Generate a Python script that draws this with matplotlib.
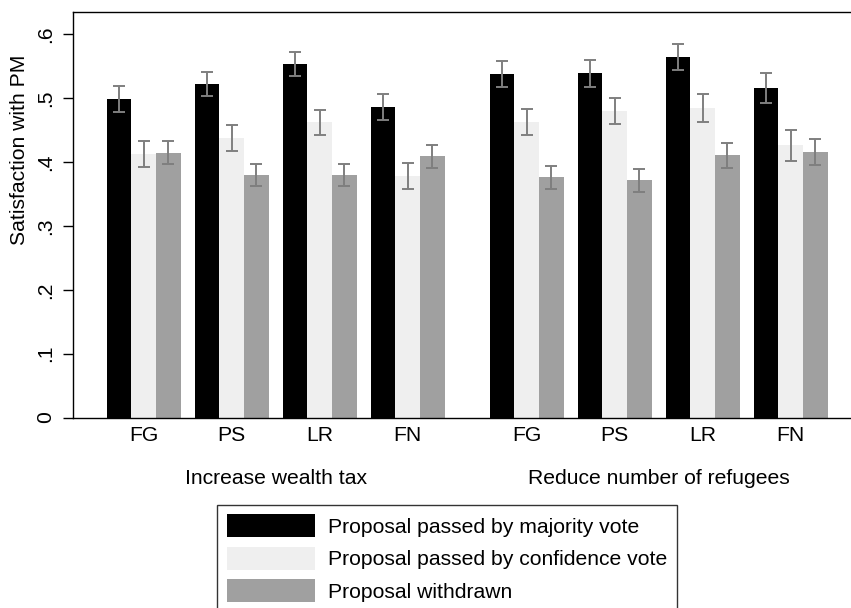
import matplotlib
matplotlib.use("Agg")
import matplotlib.pyplot as plt
from matplotlib.patches import Patch
from matplotlib.transforms import blended_transform_factory
import numpy as np

plt.rcParams["font.family"] = ["Liberation Sans", "DejaVu Sans"]

# Party labels and issue panels
parties = ["FG", "PS", "LR", "FN"]
issues = ["Increase wealth tax", "Reduce number of refugees"]
series_labels = [
    "Proposal passed by majority vote",
    "Proposal passed by confidence vote",
    "Proposal withdrawn",
]

# Mean satisfaction with PM, per issue and party
majority_tax = [0.499, 0.5225, 0.554, 0.4865]
confidence_tax = [0.413, 0.438, 0.4625, 0.378]
withdrawn_tax = [0.415, 0.380, 0.3795, 0.409]
majority_ref = [0.538, 0.539, 0.565, 0.516]
confidence_ref = [0.463, 0.480, 0.485, 0.4265]
withdrawn_ref = [0.376, 0.372, 0.411, 0.416]

# Half-widths of the confidence intervals
majority_tax_ci = [0.020, 0.0185, 0.0185, 0.0205]
confidence_tax_ci = [0.0205, 0.020, 0.0195, 0.020]
withdrawn_tax_ci = [0.0175, 0.0175, 0.0175, 0.018]
majority_ref_ci = [0.020, 0.0205, 0.020, 0.024]
confidence_ref_ci = [0.021, 0.021, 0.022, 0.024]
withdrawn_ref_ci = [0.018, 0.018, 0.0195, 0.020]

yticks = [0, 0.1, 0.2, 0.3, 0.4, 0.5, 0.6]
ytick_labels = ["0", ".1", ".2", ".3", ".4", ".5", ".6"]

colors = ["#000000", "#efefef", "#a0a0a0"]
err_color = "#7f7f7f"

panels = [
    ([majority_tax, confidence_tax, withdrawn_tax],
     [majority_tax_ci, confidence_tax_ci, withdrawn_tax_ci]),
    ([majority_ref, confidence_ref, withdrawn_ref],
     [majority_ref_ci, confidence_ref_ci, withdrawn_ref_ci]),
]
panel_start = [0.803, 5.156]
bar_w = 0.28
FS = 15.2

W, H = 851, 608
fig = plt.figure(figsize=(W / 100, H / 100), dpi=100)
ax = fig.add_axes([73 / W, 1 - 417.5 / H, (W - 73) / W, (417.5 - 11.5) / H])

tick_pos, tick_lab = [], []
for p, (vals, cis) in enumerate(panels):
    centers = panel_start[p] + np.arange(len(parties))
    for s in range(3):
        xs = centers + (s - 1) * bar_w
        ax.bar(xs, vals[s], width=bar_w, color=colors[s], edgecolor="none",
               label=series_labels[s] if p == 0 else None, zorder=2)
        ax.errorbar(xs, vals[s], yerr=cis[s], fmt="none", ecolor=err_color,
                    elinewidth=1.4, capsize=4.2, capthick=1.4, zorder=3)
    tick_pos.extend(centers)
    tick_lab.extend(parties)
    tr = blended_transform_factory(ax.transData, fig.transFigure)
    ax.text(centers.mean(), 1 - 478 / H, issues[p], transform=tr,
            ha="center", va="center", fontsize=FS)

ax.set_xlim(0, (W - 73) / 88)
ax.set_ylim(0, 0.636)
ax.set_xticks(tick_pos)
ax.set_xticklabels(tick_lab, fontsize=FS)
ax.tick_params(axis="x", length=0, pad=6)
ax.set_yticks(yticks)
ax.set_yticklabels(ytick_labels, fontsize=FS, rotation=90, va="center")
ax.tick_params(axis="y", length=7, width=1, pad=6)

for side in ["left", "top", "bottom"]:
    ax.spines[side].set_linewidth(1.0)
    ax.spines[side].set_color("black")
ax.spines["right"].set_visible(False)

fig.text(20 / W, 1 - 150 / H, "Satisfaction with PM", rotation=90,
         ha="center", va="center", fontsize=FS)

handles = [Patch(facecolor=c, edgecolor="none") for c in colors]
leg = fig.legend(handles, series_labels, loc="upper left",
                 bbox_to_anchor=(217 / W, 1 - 504.5 / H), borderaxespad=0,
                 fontsize=FS, frameon=True, fancybox=False, edgecolor="black",
                 handlelength=4.2, handleheight=1.3, handletextpad=0.6,
                 labelspacing=0.45, borderpad=0.45)
leg.get_frame().set_linewidth(1.0)

fig.savefig("out.png", dpi=100)
